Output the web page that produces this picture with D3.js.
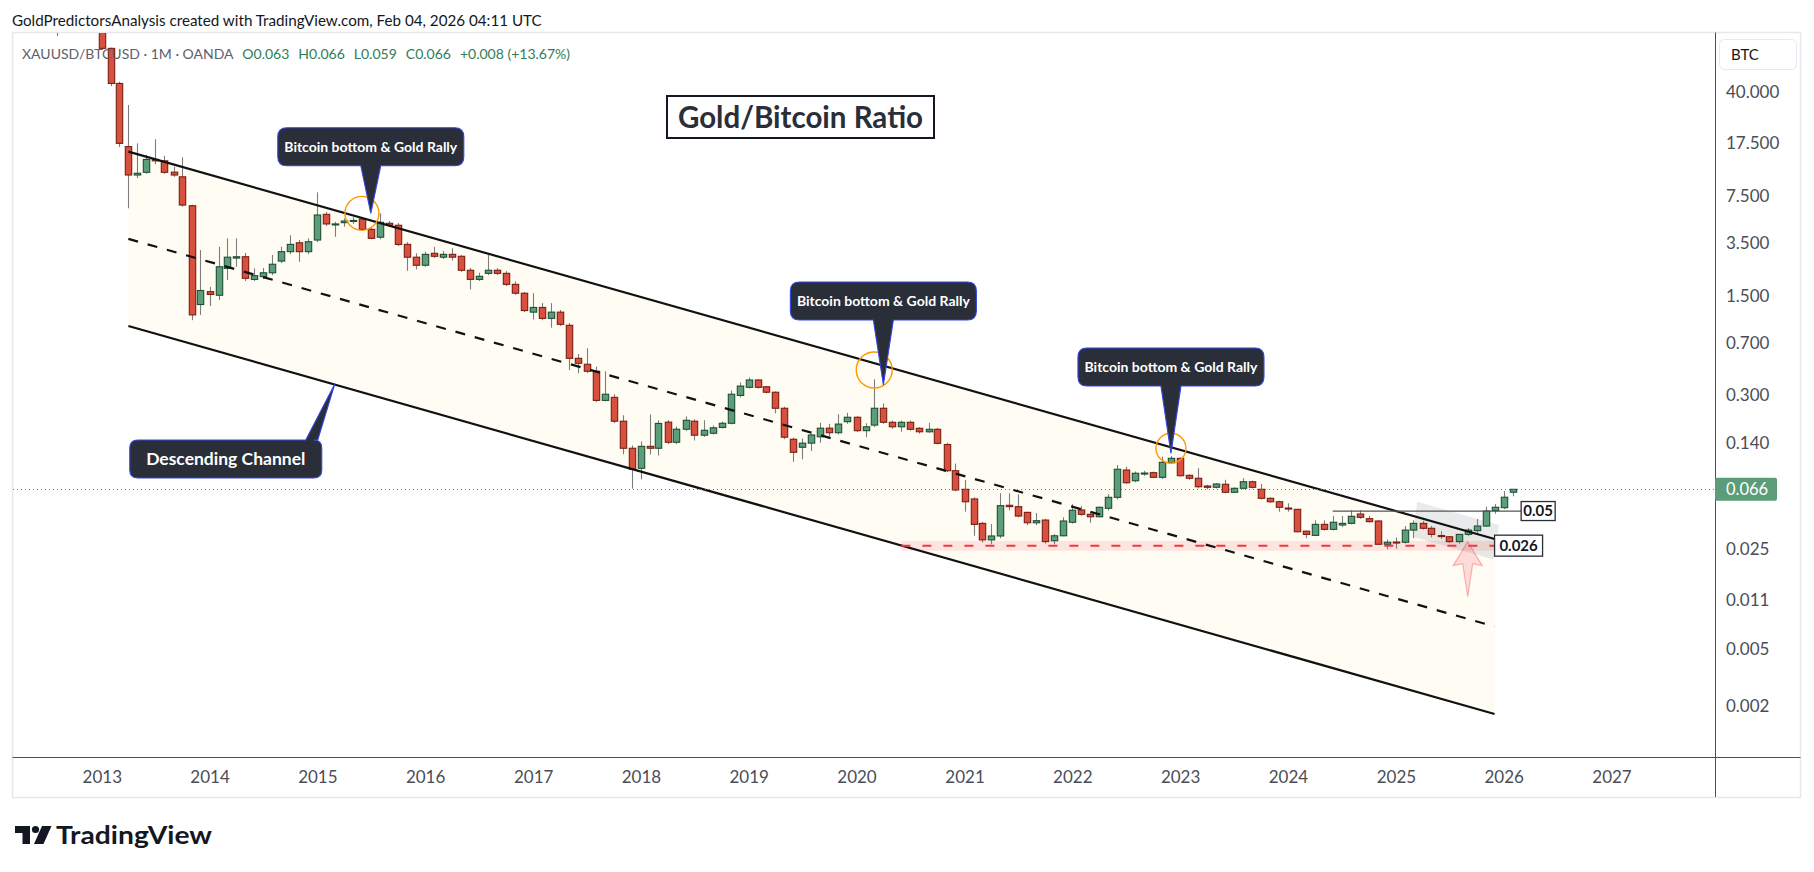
<!DOCTYPE html>
<html>
<head>
<meta charset="utf-8">
<title>Gold/Bitcoin Ratio</title>
<script src="https://cdn.jsdelivr.net/npm/d3@7/dist/d3.min.js"></script>
<style>
  body { margin: 0; background: #fff; }
  svg { display: block; }
  text { font-family: Lato, "Open Sans", sans-serif; }
</style>
</head>
<body>
<svg id="chart" width="1814" height="872"></svg>
<script>
// XAUUSD/BTCUSD monthly bars, first bar Aug 2012, one value per month
var firstBar = "2012-08-01";

var opens = [
  175, 160, 142, 155, 137,
  124, 81, 46, 16.6, 10.5, 10.97, 13.5, 13.2, 11.0, 10.2, 6.40, 1.30,
  1.60, 1.51, 2.33, 2.75, 2.81, 1.95, 2.04, 2.17, 2.62, 3.05, 3.52, 3.05,
  3.68, 5.57, 4.70, 4.87, 5.0, 5.17, 4.37, 3.85, 4.82, 4.67, 3.43, 2.79,
  2.45, 2.97, 2.79, 2.92, 2.83, 2.26, 1.95, 2.15, 2.26, 2.15, 1.80, 1.56,
  1.15, 1.24, 1.04, 1.15, 0.930, 0.546, 0.496, 0.443, 0.277, 0.291, 0.198, 0.128,
  0.0927, 0.132, 0.128, 0.195, 0.141, 0.174, 0.198, 0.158, 0.163, 0.179, 0.1915, 0.30,
  0.342, 0.385, 0.345, 0.316, 0.244, 0.148, 0.130, 0.139, 0.154, 0.177, 0.1645, 0.1965,
  0.211, 0.170, 0.186, 0.244, 0.1946, 0.181, 0.1946, 0.1766, 0.167, 0.1738, 0.136, 0.0891,
  0.066, 0.0565, 0.0381, 0.0292, 0.0311, 0.0510, 0.0499, 0.0455, 0.0385, 0.0402, 0.0288, 0.0312,
  0.0388, 0.0473, 0.0441, 0.0424, 0.0486, 0.058, 0.0901, 0.0758, 0.0855, 0.0863, 0.0801, 0.1014,
  0.1088, 0.0827, 0.0789, 0.0696, 0.0682, 0.0716, 0.0629, 0.0671, 0.0746, 0.066, 0.0571, 0.054,
  0.0488, 0.0478, 0.0336, 0.0314, 0.0375, 0.0346, 0.0371, 0.0381, 0.0443, 0.0411, 0.0396, 0.0272,
  0.0282, 0.0281, 0.0342, 0.0381, 0.0352, 0.0313, 0.0307, 0.0284, 0.0319, 0.0339, 0.0365, 0.0468,
  0.0491, 0.063
];
var highs = [
  190, 170, 160, 165, 140,
  128, 82, 47.3, 32.5, 17.5, 14.5, 18.7, 14.3, 12.0, 14, 6.5, 3.13,
  1.73, 3.30, 3.78, 3.78, 2.99, 2.33, 2.34, 2.89, 3.30, 3.97, 3.68, 3.78,
  7.95, 5.78, 4.94, 5.22, 5.33, 5.33, 4.47, 5.66, 5.0, 4.85, 3.56, 2.97,
  3.05, 3.29, 3.08, 3.22, 2.89, 2.34, 2.17, 2.90, 2.34, 2.23, 1.89, 1.59,
  1.56, 1.33, 1.33, 1.19, 0.965, 0.585, 0.642, 0.477, 0.443, 0.306, 0.218, 0.134,
  0.143, 0.221, 0.201, 0.202, 0.182, 0.214, 0.204, 0.201, 0.185, 0.197, 0.325, 0.37,
  0.40, 0.39, 0.35, 0.32, 0.25, 0.152, 0.15, 0.163, 0.193, 0.19, 0.222, 0.227,
  0.215, 0.1915, 0.389, 0.264, 0.20, 0.20, 0.20, 0.18, 0.193, 0.178, 0.14, 0.10,
  0.0767, 0.058, 0.039, 0.0377, 0.0619, 0.062, 0.061, 0.046, 0.045, 0.041, 0.032, 0.042,
  0.052, 0.0503, 0.045, 0.05, 0.061, 0.0977, 0.095, 0.088, 0.089, 0.088, 0.1117, 0.113,
  0.11, 0.084, 0.0927, 0.071, 0.073, 0.077, 0.068, 0.079, 0.076, 0.0719, 0.058, 0.055,
  0.0527, 0.048, 0.034, 0.040, 0.040, 0.043, 0.043, 0.047, 0.047, 0.043, 0.040, 0.0294,
  0.0303, 0.0365, 0.040, 0.0397, 0.0365, 0.0335, 0.0311, 0.032, 0.0353, 0.0409, 0.0499, 0.0520,
  0.0642, 0.066
];
var lows = [
  99, 130, 135, 125, 118,
  79, 44, 16.5, 6.14, 10.0, 10.7, 12.5, 10.7, 10.2, 6.3, 1.01, 1.10,
  1.27, 1.40, 1.93, 2.39, 1.90, 1.90, 1.96, 2.09, 2.54, 2.93, 2.59, 2.93,
  3.56, 4.61, 3.88, 4.56, 4.77, 4.26, 3.73, 3.73, 4.54, 3.34, 2.24, 2.29,
  2.39, 2.76, 2.71, 2.64, 2.20, 1.66, 1.90, 2.09, 2.09, 1.75, 1.52, 1.15,
  1.02, 1.01, 0.895, 0.92, 0.452, 0.429, 0.431, 0.270, 0.273, 0.192, 0.116, 0.0667,
  0.0776, 0.116, 0.114, 0.137, 0.137, 0.169, 0.145, 0.154, 0.160, 0.176, 0.188, 0.29,
  0.335, 0.335, 0.31, 0.225, 0.148, 0.103, 0.107, 0.1225, 0.14, 0.155, 0.16, 0.19,
  0.166, 0.153, 0.18, 0.19, 0.175, 0.167, 0.17, 0.162, 0.164, 0.136, 0.087, 0.064,
  0.046, 0.0312, 0.028, 0.0272, 0.030, 0.047, 0.042, 0.037, 0.037, 0.0275, 0.0272, 0.031,
  0.038, 0.043, 0.0385, 0.042, 0.047, 0.056, 0.072, 0.074, 0.082, 0.079, 0.078, 0.10,
  0.081, 0.077, 0.067, 0.066, 0.067, 0.062, 0.0625, 0.066, 0.067, 0.056, 0.053, 0.046,
  0.046, 0.033, 0.030, 0.031, 0.034, 0.034, 0.036, 0.0375, 0.041, 0.0385, 0.027, 0.0251,
  0.0253, 0.0275, 0.030, 0.0345, 0.0304, 0.0296, 0.0277, 0.0275, 0.031, 0.0319, 0.036, 0.0445,
  0.048, 0.059
];
var closes = [
  160, 142, 155, 137, 124,
  81, 46, 17.5, 10.5, 10.8, 13.5, 13.2, 10.97, 10.5, 6.47, 1.10, 1.63,
  1.53, 2.39, 2.79, 2.81, 1.985, 2.07, 2.17, 2.49, 3.05, 3.43, 3.05, 3.58,
  5.51, 4.77, 4.77, 5.0, 5.05, 4.37, 3.78, 4.90, 4.67, 3.43, 2.79, 2.45,
  2.92, 2.83, 2.92, 2.79, 2.26, 1.95, 2.05, 2.26, 2.15, 1.80, 1.56, 1.18,
  1.24, 1.04, 1.15, 0.945, 0.546, 0.504, 0.443, 0.277, 0.306, 0.198, 0.128, 0.0912,
  0.132, 0.128, 0.191, 0.141, 0.174, 0.201, 0.158, 0.171, 0.178, 0.1915, 0.306, 0.349,
  0.385, 0.342, 0.316, 0.244, 0.153, 0.12, 0.139, 0.1585, 0.177, 0.1645, 0.189, 0.211,
  0.170, 0.181, 0.244, 0.1946, 0.181, 0.1946, 0.1738, 0.167, 0.1738, 0.1386, 0.0891, 0.0653,
  0.054, 0.0375, 0.0292, 0.0311, 0.0507, 0.0499, 0.0429, 0.0385, 0.0398, 0.0284, 0.0312, 0.0396,
  0.0471, 0.0441, 0.0424, 0.0494, 0.058, 0.0912, 0.0734, 0.0855, 0.0858, 0.0801, 0.102, 0.1088,
  0.0822, 0.0789, 0.0688, 0.0682, 0.0719, 0.0629, 0.0671, 0.0746, 0.0682, 0.0571, 0.054, 0.0494,
  0.0483, 0.0333, 0.0319, 0.0375, 0.0346, 0.0388, 0.0381, 0.0427, 0.0420, 0.0392, 0.0272, 0.0281,
  0.0280, 0.0342, 0.0381, 0.0352, 0.0319, 0.0311, 0.0284, 0.0319, 0.0342, 0.0365, 0.0465, 0.0494,
  0.0581, 0.066
];

// price scale ticks (log) and time scale years
var priceTicks = [40, 17.5, 7.5, 3.5, 1.5, 0.7, 0.3, 0.14, 0.025, 0.011, 0.005, 0.002];
var yearTicks = ["2013", "2014", "2015", "2016", "2017", "2018", "2019", "2020", "2021", "2022", "2023", "2024", "2025", "2026", "2027"];

// drawings: descending channel (start, end)
var channelDates = ["2013-04-01", "2025-12-01"];
var channelUpper = [15.3, 0.0296];
var channelMid = [3.75, 0.00722];
var channelLower = [0.92, 0.00176];

// support zone and breakout level
var supportDates = ["2020-06-01", "2025-12-01"];
var supportLevel = 0.0266;
var supportBand = [0.0287, 0.0245];
var supportLabel = "0.026";
var breakoutDates = ["2024-06-01", "2026-03-01"];
var breakoutLevel = 0.0465;
var breakoutLabel = "0.05";

// grey highlight box around the breakout
var highlightDates = ["2025-03-14", "2025-12-16", "2025-11-28", "2025-02-26"];
var highlightValues = [0.054, 0.0371, 0.0213, 0.0307];

var arrowDate = "2025-09-01";
var arrowValue = 0.0284;

var calloutText = "Bitcoin bottom & Gold Rally";
var calloutDates = ["2015-07-01", "2020-04-01", "2022-12-01"];
var calloutTips = [5.66, 0.355, 0.118];
var calloutBoxBottoms = [12.2, 1.013, 0.349];

var circleDates = ["2015-06-01", "2020-03-01", "2022-12-01"];
var circleValues = [5.66, 0.452, 0.128];

var channelNoteDate = "2015-03-01";
var channelNoteValue = 0.361;

var svg = d3.select("#chart");
var parse = d3.utcParse("%Y-%m-%d");

var plotL = 13, plotR = 1715, plotT = 33, plotB = 757;

var x = d3.scaleUtc()
  .domain([new Date(Date.UTC(2013, 0, 1)), new Date(Date.UTC(2027, 0, 1))])
  .range([101.8, 1611.5]);
var y = d3.scaleLog()
  .domain([40, 0.002])
  .range([92.1, 706.1]);

var start = parse(firstBar);
var bars = opens.map(function (o, i) {
  return { date: d3.utcMonth.offset(start, i), o: o, h: highs[i], l: lows[i], c: closes[i] };
});
var last = bars[bars.length - 1];

var upCol = "#5c9e7a", upLine = "#1d4f35";
var dnCol = "#d8513f", dnLine = "#7a1d13";

// panel
svg.append("rect").attr("width", 1814).attr("height", 872).attr("fill", "#fff");
svg.append("rect")
  .attr("x", 12.5).attr("y", 32.5).attr("width", 1788).attr("height", 765)
  .attr("fill", "#fff").attr("stroke", "#e6e8ee").attr("stroke-width", 1.5);

svg.append("defs").append("clipPath").attr("id", "plotclip")
  .append("rect").attr("x", plotL).attr("y", plotT)
  .attr("width", plotR - plotL).attr("height", plotB - plotT);

var plot = svg.append("g").attr("clip-path", "url(#plotclip)");

// channel background
var cx0 = x(parse(channelDates[0])), cx1 = x(parse(channelDates[1]));
plot.append("path")
  .attr("d", "M" + cx0 + "," + y(channelUpper[0]) + "L" + cx1 + "," + y(channelUpper[1]) +
    "L" + cx1 + "," + y(channelLower[1]) + "L" + cx0 + "," + y(channelLower[0]) + "Z")
  .attr("fill", "#fffcf4");

// support band
var sx0 = x(parse(supportDates[0])), sx1 = x(parse(supportDates[1]));
plot.append("rect")
  .attr("x", sx0).attr("y", y(supportBand[0]))
  .attr("width", sx1 - sx0).attr("height", y(supportBand[1]) - y(supportBand[0]))
  .attr("fill", "rgba(242,54,69,0.12)");

// grey rotated box
plot.append("path")
  .attr("d", "M" + highlightDates.map(function (d, i) {
    return x(parse(d)) + "," + y(highlightValues[i]);
  }).join("L") + "Z")
  .attr("fill", "rgba(120,123,134,0.16)");

// candles
var bodyW = 6.4;
var candle = plot.append("g").selectAll("g").data(bars).join("g");
candle.append("line")
  .attr("x1", function (d) { return Math.round(x(d.date)) + 0.5; })
  .attr("x2", function (d) { return Math.round(x(d.date)) + 0.5; })
  .attr("y1", function (d) { return y(d.h); })
  .attr("y2", function (d) { return y(d.l); })
  .attr("stroke", "#7d7d7d").attr("stroke-width", 1.1);
candle.append("rect")
  .attr("x", function (d) { return Math.round(x(d.date)) + 0.5 - bodyW / 2; })
  .attr("y", function (d) { return y(Math.max(d.o, d.c)); })
  .attr("width", bodyW)
  .attr("height", function (d) { return Math.max(1, Math.abs(y(d.o) - y(d.c))); })
  .attr("fill", function (d) { return d.c >= d.o ? upCol : dnCol; })
  .attr("stroke", function (d) { return d.c >= d.o ? upLine : dnLine; })
  .attr("stroke-width", 1.1);

// channel lines
function seg(v) {
  return "M" + cx0 + "," + y(v[0]) + "L" + cx1 + "," + y(v[1]);
}
plot.append("path").attr("d", seg(channelUpper)).attr("stroke", "#111").attr("stroke-width", 2.2).attr("fill", "none");
plot.append("path").attr("d", seg(channelLower)).attr("stroke", "#111").attr("stroke-width", 2.2).attr("fill", "none");
plot.append("path").attr("d", seg(channelMid)).attr("stroke", "#111").attr("stroke-width", 2.2)
  .attr("stroke-dasharray", "10,10").attr("fill", "none");

// support dashed line
plot.append("line")
  .attr("x1", sx0).attr("x2", sx1)
  .attr("y1", y(supportLevel)).attr("y2", y(supportLevel))
  .attr("stroke", "#f23645").attr("stroke-width", 2).attr("stroke-dasharray", "9,12");

// breakout horizontal line
var bx0 = x(parse(breakoutDates[0])), bx1 = x(parse(breakoutDates[1]));
plot.append("line")
  .attr("x1", bx0).attr("x2", bx1)
  .attr("y1", y(breakoutLevel)).attr("y2", y(breakoutLevel))
  .attr("stroke", "#555").attr("stroke-width", 1.2);

// last price dotted line
plot.append("line")
  .attr("x1", plotL).attr("x2", plotR)
  .attr("y1", Math.round(y(last.c)) + 0.5).attr("y2", Math.round(y(last.c)) + 0.5)
  .attr("stroke", "#3f8f68").attr("stroke-width", 1).attr("stroke-dasharray", "1,3");

// pink arrow
var ax = x(parse(arrowDate)), ay = y(arrowValue);
svg.append("path")
  .attr("d", "M" + ax + "," + ay + "l14.5,24l-9.5,-2l-5,33l-5,-33l-9.5,2z")
  .attr("fill", "rgba(242,54,69,0.16)").attr("stroke", "rgba(242,54,69,0.35)").attr("stroke-width", 1.2);

// orange circles
var circleR = [17, 18, 15];
svg.selectAll(".ring").data(circleDates).join("circle")
  .attr("cx", function (d) { return x(parse(d)); })
  .attr("cy", function (d, i) { return y(circleValues[i]); })
  .attr("r", function (d, i) { return circleR[i]; })
  .attr("fill", "none").attr("stroke", "#ff9800").attr("stroke-width", 1.4);

// callout bubble path with a pointer
function bubble(x0, y0, w, h, r, baseL, baseR, tipX, tipY, side) {
  var x1 = x0 + w, y1 = y0 + h;
  var p = "M" + (x0 + r) + "," + y0;
  if (side === "top") p += "L" + baseL + "," + y0 + "L" + tipX + "," + tipY + "L" + baseR + "," + y0;
  p += "L" + (x1 - r) + "," + y0 + "Q" + x1 + "," + y0 + " " + x1 + "," + (y0 + r);
  p += "L" + x1 + "," + (y1 - r) + "Q" + x1 + "," + y1 + " " + (x1 - r) + "," + y1;
  if (side === "bottom") p += "L" + baseR + "," + y1 + "L" + tipX + "," + tipY + "L" + baseL + "," + y1;
  p += "L" + (x0 + r) + "," + y1 + "Q" + x0 + "," + y1 + " " + x0 + "," + (y1 - r);
  p += "L" + x0 + "," + (y0 + r) + "Q" + x0 + "," + y0 + " " + (x0 + r) + "," + y0 + "Z";
  return p;
}

calloutDates.forEach(function (d, i) {
  var tx = x(parse(d)), ty = y(calloutTips[i]);
  var bw = 186, bh = 38, by = y(calloutBoxBottoms[i]) - bh;
  svg.append("path")
    .attr("d", bubble(tx - bw / 2, by, bw, bh, 9, tx - 10, tx + 10, tx, ty, "bottom"))
    .attr("fill", "#2a2e39").attr("stroke", "#3346e0").attr("stroke-width", 1.1);
  svg.append("text")
    .attr("x", tx).attr("y", by + bh / 2).attr("dy", "0.35em")
    .attr("text-anchor", "middle").attr("fill", "#fff")
    .attr("font-size", 14).attr("font-weight", 700)
    .text(calloutText);
});

// descending channel note
(function () {
  var tx = x(parse(channelNoteDate)), ty = y(channelNoteValue);
  var bx = tx - 205, bw = 192, bh = 38, by = ty + 56;
  svg.append("path")
    .attr("d", bubble(bx, by, bw, bh, 8, tx - 29, tx - 17, tx, ty, "top"))
    .attr("fill", "#2a2e39").attr("stroke", "#3346e0").attr("stroke-width", 1.1);
  svg.append("text")
    .attr("x", bx + bw / 2).attr("y", by + bh / 2).attr("dy", "0.35em")
    .attr("text-anchor", "middle").attr("fill", "#fff")
    .attr("font-size", 17.5).attr("font-weight", 700)
    .text("Descending Channel");
})();

// title
svg.append("rect").attr("x", 667).attr("y", 96).attr("width", 267).attr("height", 42)
  .attr("fill", "#fff").attr("stroke", "#131722").attr("stroke-width", 2);
svg.append("text").attr("x", 800.5).attr("y", 117).attr("dy", "0.36em")
  .attr("text-anchor", "middle").attr("fill", "#2a2e39")
  .attr("font-size", 29.5).attr("font-weight", 700)
  .text("Gold/Bitcoin Ratio");

// level labels
var sy = y(supportLevel);
svg.append("rect").attr("x", sx1).attr("y", sy - 10.5).attr("width", 48).attr("height", 21)
  .attr("fill", "#fff").attr("stroke", "#2a2e39").attr("stroke-width", 1.3);
svg.append("text").attr("x", sx1 + 24).attr("y", sy).attr("dy", "0.35em")
  .attr("text-anchor", "middle").attr("fill", "#131722")
  .attr("font-size", 15).attr("font-weight", 700).text(supportLabel);
var byy = y(breakoutLevel);
svg.append("rect").attr("x", bx1).attr("y", byy - 9.5).attr("width", 34).attr("height", 19)
  .attr("fill", "#fff").attr("stroke", "#2a2e39").attr("stroke-width", 1.3);
svg.append("text").attr("x", bx1 + 17).attr("y", byy).attr("dy", "0.35em")
  .attr("text-anchor", "middle").attr("fill", "#131722")
  .attr("font-size", 15).attr("font-weight", 700).text(breakoutLabel);

// axes frame lines
svg.append("line").attr("x1", 12.5).attr("x2", 1800.5).attr("y1", 757.5).attr("y2", 757.5)
  .attr("stroke", "#4b4f5a").attr("stroke-width", 1);
svg.append("line").attr("x1", 1715.5).attr("x2", 1715.5).attr("y1", 32.5).attr("y2", 797)
  .attr("stroke", "#4b4f5a").attr("stroke-width", 1);

// price axis
var yAxis = d3.axisRight(y).tickValues(priceTicks).tickFormat(d3.format(".3f"))
  .tickSize(0).tickPadding(11);
svg.append("g").attr("transform", "translate(1715,0)").call(yAxis)
  .call(function (g) { g.select(".domain").remove(); })
  .selectAll("text").attr("font-family", "Lato, sans-serif").attr("font-size", 17).attr("fill", "#4a4d57");

// time axis
var xAxis = d3.axisBottom(x)
  .tickValues(yearTicks.map(function (s) { return parse(s + "-01-01"); }))
  .tickFormat(d3.utcFormat("%Y")).tickSize(0).tickPadding(13.5);
svg.append("g").attr("transform", "translate(0,757)").call(xAxis)
  .call(function (g) { g.select(".domain").remove(); })
  .selectAll("text").attr("font-family", "Lato, sans-serif").attr("font-size", 17).attr("fill", "#4a4d57");

// BTC unit box
svg.append("rect").attr("x", 1719.5).attr("y", 39.5).attr("width", 77).attr("height", 30).attr("rx", 5)
  .attr("fill", "#fff").attr("stroke", "#e6e8ee");
svg.append("text").attr("x", 1731).attr("y", 55).attr("dy", "0.35em")
  .attr("font-size", 15).attr("fill", "#131722").text("BTC");

// last price tag
var ly = y(last.c);
svg.append("rect").attr("x", 1715).attr("y", ly - 11.5).attr("width", 62).attr("height", 23).attr("rx", 2)
  .attr("fill", "#5b9d78");
svg.append("text").attr("x", 1726).attr("y", ly).attr("dy", "0.35em")
  .attr("font-size", 16.5).attr("fill", "#fff").text(d3.format(".3f")(last.c));

// header and legend
svg.append("text").attr("x", 12).attr("y", 25.5)
  .attr("font-size", 15.2).attr("fill", "#131722")
  .text("GoldPredictorsAnalysis created with TradingView.com, Feb 04, 2026 04:11 UTC");

var f3 = d3.format(".3f");
var legend = svg.append("text").attr("x", 22).attr("y", 59).attr("font-size", 14);
legend.append("tspan").attr("fill", "#5d606b").text("XAUUSD/BTCUSD · 1M · OANDA");
[["O", last.o], ["H", last.h], ["L", last.l], ["C", last.c]].forEach(function (p) {
  legend.append("tspan").attr("dx", 9).attr("fill", "#2f7d57").text(p[0] + f3(p[1]));
});
legend.append("tspan").attr("dx", 9).attr("fill", "#2f7d57").text("+0.008 (+13.67%)");

// TradingView logo
var logo = svg.append("g").attr("fill", "#131722");
logo.append("path").attr("d", "M15,826H30V844H22.5V833H15Z");
logo.append("circle").attr("cx", 35.5).attr("cy", 829.5).attr("r", 3.6);
logo.append("path").attr("d", "M42,826H51.5L43.5,844H34Z");
svg.append("text").attr("x", 56).attr("y", 843.5)
  .attr("font-family", "'Open Sans', Lato, sans-serif")
  .attr("font-size", 24).attr("font-weight", 700).attr("fill", "#131722")
  .attr("textLength", 156).attr("lengthAdjust", "spacingAndGlyphs")
  .text("TradingView");
</script>
</body>
</html>
